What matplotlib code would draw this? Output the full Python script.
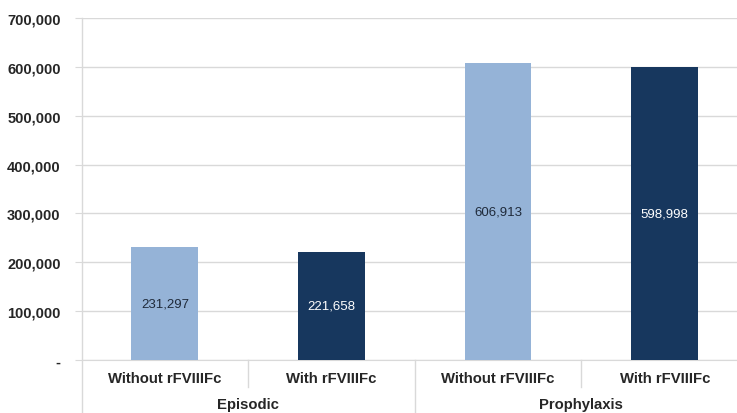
import matplotlib.pyplot as plt
import matplotlib.transforms as mtransforms
from matplotlib.ticker import FuncFormatter

plt.rcParams['font.family'] = ['Liberation Sans', 'DejaVu Sans']

# Datos
categorias = ["Without rFVIIIFc", "With rFVIIIFc", "Without rFVIIIFc", "With rFVIIIFc"]
grupos = ["Episodic", "Prophylaxis"]
valores = [231297, 221658, 606913, 598998]
colores = ["#95B3D7", "#17375E", "#95B3D7", "#17375E"]
color_texto = ["#1F2A3A", "white", "#1F2A3A", "white"]

fig = plt.figure(figsize=(7.37, 4.14), dpi=100)
ax = fig.add_axes([81.5 / 737, 1 - 361 / 414, 666.5 / 737, 342 / 414])

x = range(len(valores))
bars = ax.bar(x, valores, width=0.4, color=colores, zorder=3)

for b, v, c in zip(bars, valores, color_texto):
    ax.text(b.get_x() + b.get_width() / 2, v / 2, f"{v:,}", ha="center", va="center",
            fontsize=9.5, color=c, zorder=4)

ax.set_xlim(-0.5, 3.5)
ax.set_ylim(0, 700000)
ax.set_yticks(range(0, 700001, 100000))
ax.yaxis.set_major_formatter(FuncFormatter(lambda v, p: "-" if v == 0 else f"{int(v):,}"))
ax.grid(axis="y", color="#D9D9D9", linewidth=1, zorder=0)
ax.tick_params(axis="y", length=5, color="#D9D9D9", labelsize=10.5, pad=10)
for lbl in ax.get_yticklabels():
    lbl.set_fontweight("bold")
    lbl.set_color("#262626")

ax.set_xticks(list(x))
ax.set_xticklabels(categorias, fontsize=10.7, fontweight="bold", color="#262626")
ax.tick_params(axis="x", length=0, pad=8)

for s in ["top", "right", "left"]:
    ax.spines[s].set_visible(False)
ax.spines["bottom"].set_color("#D9D9D9")

# Lineas de separacion de categorias y grupos
trans = mtransforms.blended_transform_factory(ax.transData, ax.transAxes)
gris = "#D9D9D9"
ax.plot([-0.5, -0.5], [1, -0.16], transform=trans, color=gris, lw=1, clip_on=False)
ax.plot([1.5, 1.5], [0, -0.16], transform=trans, color=gris, lw=1, clip_on=False)
ax.plot([0.5, 0.5], [0, -0.08], transform=trans, color=gris, lw=1, clip_on=False)
ax.plot([2.5, 2.5], [0, -0.08], transform=trans, color=gris, lw=1, clip_on=False)

for i, g in enumerate(grupos):
    ax.text(0.5 + 2 * i, -0.128, g, transform=trans, ha="center", va="center",
            fontsize=10.7, fontweight="bold", color="#262626")

fig.savefig("out.png", dpi=100)
